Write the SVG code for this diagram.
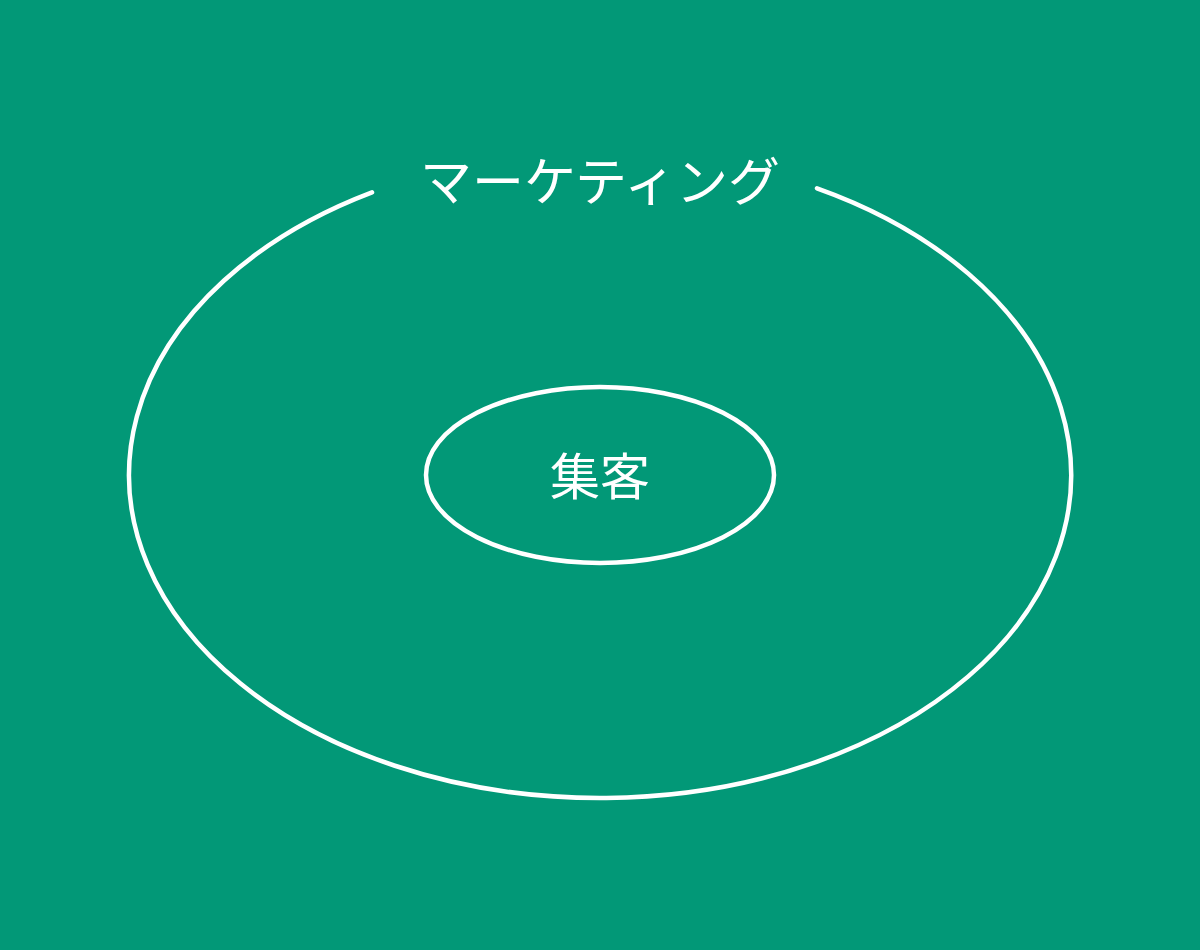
<svg xmlns="http://www.w3.org/2000/svg" width="1200" height="950" viewBox="0 0 1200 950">
<style>
.ring{fill:none;stroke:#ffffff;stroke-width:4.5;stroke-linecap:round}
.lbl{fill:#ffffff;font-family:"Noto Sans CJK JP","Noto Sans CJK SC",sans-serif;text-anchor:middle}
</style>
<rect x="0" y="0" width="1200" height="950" fill="#029877"/>
<g id="marketing">
<path class="ring" d="M 817 188.3 A 471 323 0 1 1 372 192.4"/>
<text class="lbl" x="600" y="201" font-size="52">マーケティング</text>
</g>
<g id="shukyaku">
<ellipse class="ring" cx="600" cy="475" rx="174" ry="88"/>
<text class="lbl" x="600" y="495" font-size="50">集客</text>
</g>
<g id="connectors"></g>
</svg>
